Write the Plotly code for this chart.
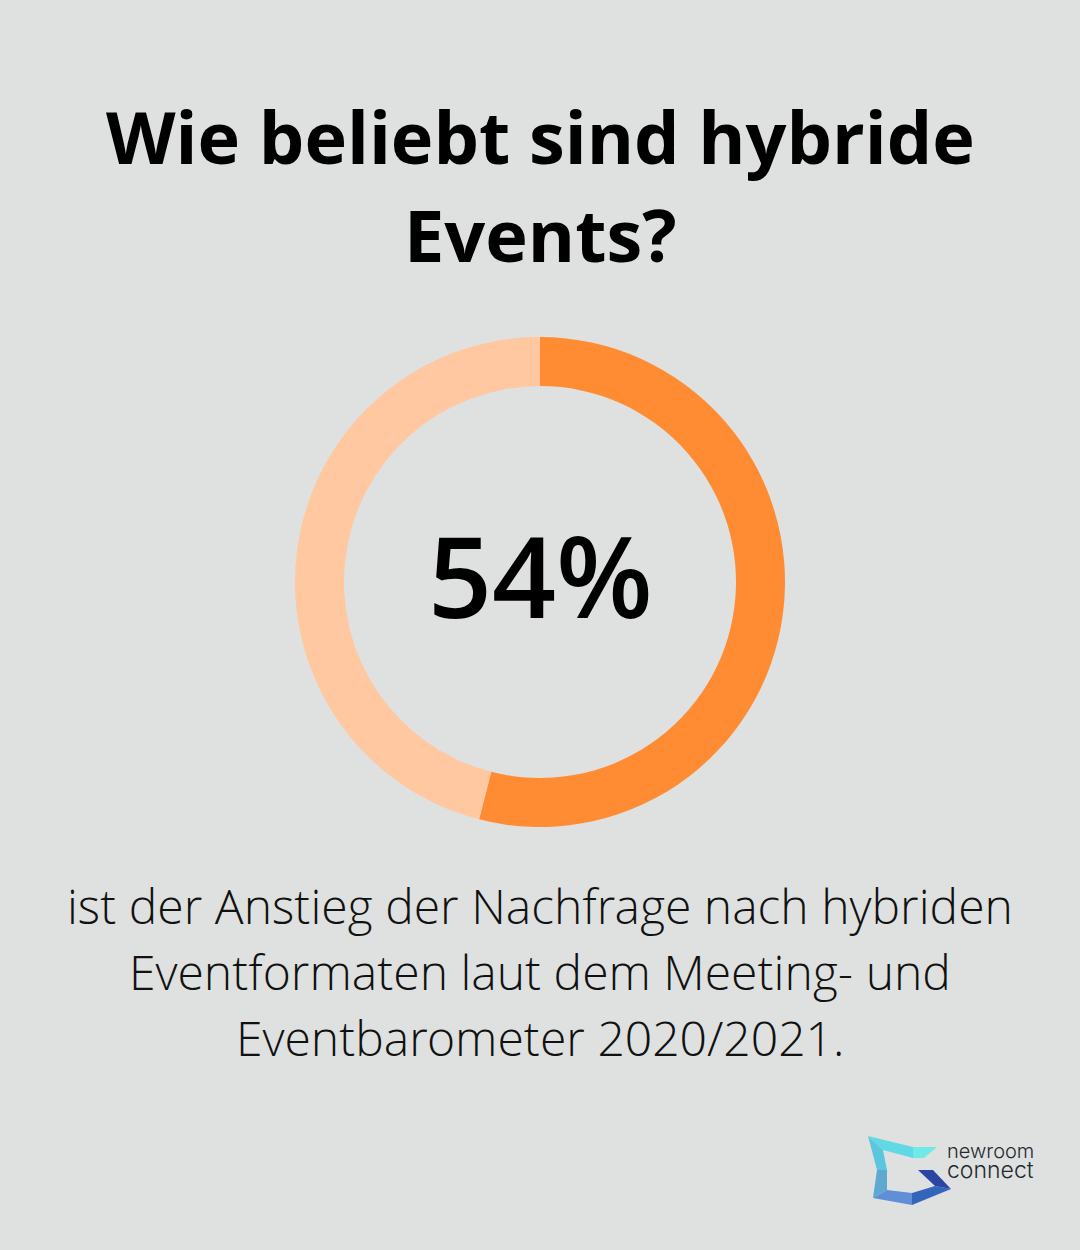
import plotly.graph_objects as go

labels = ["Anstieg", "Rest"]
values = [54, 46]
slice_colors = ["#ff8c33", "#ffc8a0"]

title_lines = ["Wie beliebt sind hybride", "Events?"]
center_text = "54%"
caption_lines = [
    "ist der Anstieg der Nachfrage nach hybriden",
    "Eventformaten laut dem Meeting- und",
    "Eventbarometer 2020/2021.",
]
logo_lines = ["newroom", "connect"]

W, H = 1080, 1250
BG = "#dfe1e0"


def px_x(x):
    return x / W


def px_y(y):
    return 1 - y / H


fig = go.Figure(go.Pie(
    labels=labels, values=values, hole=0.8, sort=False, direction="clockwise",
    rotation=0, marker=dict(colors=slice_colors, line=dict(width=0)),
    textinfo="none", showlegend=False,
    domain=dict(x=[px_x(295), px_x(785)], y=[px_y(827), px_y(337)])))

annotations = []
for text, y in zip(title_lines, [136, 234]):
    annotations.append(dict(x=0.5, y=px_y(y), text=f"<b>{text}</b>", showarrow=False,
                            xanchor="center", yanchor="middle",
                            font=dict(size=72, color="#000000")))
annotations.append(dict(x=0.5, y=px_y(574), text=center_text, showarrow=False,
                        xanchor="center", yanchor="middle",
                        font=dict(size=112, color="#000000", weight=600)))
for text, y in zip(caption_lines, [905, 971, 1037]):
    annotations.append(dict(x=0.5, y=px_y(y), text=text, showarrow=False,
                            xanchor="center", yanchor="middle",
                            font=dict(size=48, color="#111111", family="Open Sans Light, Open Sans")))
for text, y, size in zip(logo_lines, [1151, 1170], [20, 23]):
    annotations.append(dict(x=px_x(946), y=px_y(y), text=text, showarrow=False,
                            xanchor="left", yanchor="middle", height=18, borderpad=0,
                            font=dict(size=size, color="#1f2a30", family="Inter", weight=300)))

# logo facets, in page pixels
logo_parts = [
    ([(868, 1136), (913, 1147), (913, 1158), (883, 1150)], "#5fd9e4"),
    ([(913, 1147), (937, 1147), (924, 1158), (913, 1158)], "#70e9e9"),
    ([(868, 1136), (883, 1150), (887, 1170), (877, 1170)], "#5cc6de"),
    ([(877, 1170), (887, 1170), (887, 1190), (873, 1198)], "#5fa8d0"),
    ([(873, 1198), (887, 1190), (912, 1193), (912, 1205)], "#5f8fd6"),
    ([(912, 1193), (935, 1186), (951, 1189), (912, 1205)], "#3465bd"),
    ([(918, 1170), (933, 1170), (951, 1189), (935, 1186)], "#2b45a5"),
]
shapes = []
for pts, color in logo_parts:
    path = "M " + " L ".join(f"{px_x(x)} {px_y(y)}" for x, y in pts) + " Z"
    shapes.append(dict(type="path", xref="paper", yref="paper", path=path,
                       fillcolor=color, line=dict(width=0)))

fig.update_layout(
    width=W, height=H, paper_bgcolor=BG, plot_bgcolor=BG,
    margin=dict(l=0, r=0, t=0, b=0),
    font=dict(family="Open Sans", color="#000000"),
    annotations=annotations, shapes=shapes)
# the page's default body margin would leave a white frame
fig.write_html("out.html", config=dict(displayModeBar=False),
               post_script="document.body.style.margin='0';document.body.style.overflow='hidden';")
